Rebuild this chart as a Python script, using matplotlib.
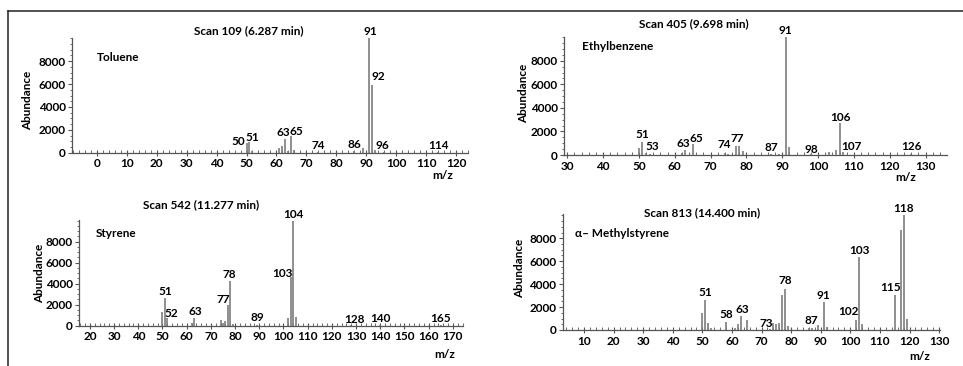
import matplotlib
matplotlib.use("Agg")
import matplotlib.pyplot as plt
from matplotlib.lines import Line2D
from matplotlib.ticker import MultipleLocator

plt.rcParams['font.family'] = ['Lato', 'DejaVu Sans']
plt.rcParams['font.weight'] = 'bold'

# ---------------- data ----------------
toluene_mz = [50, 51, 52, 61, 62, 63, 64, 65, 66, 74, 86, 89, 91, 92, 93, 96, 114]
toluene_ab = [820, 960, 150, 380, 620, 1170, 150, 1450, 200, 100, 150, 450, 10000, 5900, 250, 60, 60]
toluene_labels = [50, 51, 63, 65, 74, 86, 91, 92, 96, 114]

ethyl_mz = [50, 51, 52, 53, 62, 63, 65, 74, 75, 77, 78, 79, 87, 89, 91, 92, 98, 103, 105, 106, 107, 126]
ethyl_ab = [570, 1070, 150, 80, 150, 420, 930, 150, 100, 760, 740, 340, 80, 100, 10000, 650, 50, 280, 420, 2680, 220, 50]
ethyl_labels = [51, 53, 63, 65, 74, 77, 87, 91, 98, 106, 107, 126]

styrene_mz = [50, 51, 52, 62, 63, 74, 75, 76, 77, 78, 79, 89, 102, 103, 104, 105, 128, 140, 165]
styrene_ab = [1270, 2590, 700, 290, 700, 500, 300, 400, 1960, 4230, 200, 100, 700, 4640, 10000, 800, 50, 50, 50]
styrene_labels = [51, 52, 63, 77, 78, 89, 103, 104, 128, 140, 165]

methyl_mz = [50, 51, 52, 53, 58, 61, 62, 63, 65, 73, 74, 75, 76, 77, 78, 79, 86, 87, 89, 91, 92,
             102, 103, 104, 115, 117, 118, 119]
methyl_ab = [1440, 2590, 630, 150, 720, 200, 500, 1240, 860, 100, 630, 520, 580, 3020, 3600, 350, 150, 170, 430,
             2450, 290, 860, 6340, 520, 3080, 8700, 10000, 920]
methyl_labels = [51, 58, 63, 73, 78, 87, 91, 102, 103, 115, 118]

titles = ["Scan 109 (6.287 min)", "Scan 405 (9.698 min)", "Scan 542 (11.277 min)", "Scan 813 (14.400 min)"]
names = ["Toluene", "Ethylbenzene", "Styrene", "\u03b1\u2013 Methylstyrene"]
x_ticks = [list(range(0, 121, 10)), list(range(30, 131, 10)), list(range(20, 171, 10)), list(range(10, 131, 10))]
y_ticks = [0, 2000, 4000, 6000, 8000]

# ---------------- layout / style ----------------
W, H = 963, 366
panels = [
    dict(mz=toluene_mz, ab=toluene_ab, labels=toluene_labels,
         rect=[72, 38, 468, 152.7], xlim=(-8.3, 124), ylim=10030,
         title=(0.447, 1.061), name=(0.062, 0.834), ylab=(-0.111, 0.46), mz_lab=(0.937, -0.2),
         off={50: (-8, -2), 51: (3, 1), 63: (-2, 3), 65: (5, 1), 74: (0, 3), 86: (0, 3),
              91: (1, 3), 92: (6, 5), 96: (-2, 3), 114: (0, 3)}),
    dict(mz=ethyl_mz, ab=ethyl_ab, labels=ethyl_labels,
         rect=[564, 36.7, 946.7, 155], xlim=(29.1, 135.9), ylim=10050,
         title=(0.34, 1.113), name=(0.046, 0.92), ylab=(-0.106, 0.524), mz_lab=(0.894, -0.186),
         off={51: (0, 4), 53: (3, 4), 63: (-2, 3), 65: (4, 2), 74: (-1, 5), 77: (1.5, 4), 87: (0, 3),
              91: (0, 3), 98: (0, 1), 106: (1, 2), 107: (8, 2), 126: (0, 4)}),
    dict(mz=styrene_mz, ab=styrene_ab, labels=styrene_labels,
         rect=[79, 220, 463.3, 325.7], xlim=(15.5, 174.3), ylim=10060,
         title=(0.317, 1.142), name=(0.043, 0.874), ylab=(-0.103, 0.499), mz_lab=(0.952, -0.277),
         off={51: (0, 3), 52: (3.5, 1), 63: (1, 3), 77: (-5, 2), 78: (-1, 3), 89: (1, 4),
              103: (-8, 0), 104: (0, 3), 128: (3, 2), 140: (0, 3), 165: (0, 3)}),
    dict(mz=methyl_mz, ab=methyl_ab, labels=methyl_labels,
         rect=[562.7, 214.3, 940, 330], xlim=(2.8, 130.3), ylim=10090,
         title=(0.37, 1.017), name=(0.033, 0.835), ylab=(-0.115, 0.533), mz_lab=(0.947, -0.231),
         off={51: (0, 4), 58: (0, 4), 63: (1, 3), 73: (-4, 2), 78: (0, 5), 87: (-1, 4), 91: (0, 3),
              102: (-8, 5), 103: (0, 3), 115: (-4, 4), 118: (0, 3)}),
]

FS = 8.5
BAR = '#7d7d7d'
AXC = '#555555'

fig = plt.figure(figsize=(W / 100, H / 100), dpi=100)
fig.patch.set_facecolor('white')

for i, p in enumerate(panels):
    l, t, r, b = p['rect']
    ax = fig.add_axes([l / W, 1 - b / H, (r - l) / W, (b - t) / H])
    ax.vlines(p['mz'], 0, p['ab'], color=BAR, lw=1.2)
    ax.set_xlim(*p['xlim'])
    ax.set_ylim(0, p['ylim'])
    ax.set_xticks(x_ticks[i])
    ax.set_yticks(y_ticks)
    ax.xaxis.set_minor_locator(MultipleLocator(2))
    ax.yaxis.set_minor_locator(MultipleLocator(500))
    for s in ['top', 'right']:
        ax.spines[s].set_visible(False)
    for s in ['left', 'bottom']:
        ax.spines[s].set_color(AXC)
        ax.spines[s].set_linewidth(0.9)
    ax.tick_params(axis='x', which='major', direction='inout', length=4, width=0.8, color=AXC,
                   labelsize=FS, pad=2)
    ax.tick_params(axis='x', which='minor', direction='in', length=2, width=0.6, color=AXC)
    ax.tick_params(axis='y', which='major', direction='out', length=3, width=0.8, color=AXC,
                   labelsize=FS, pad=1.5)
    ax.tick_params(axis='y', which='minor', direction='out', length=1.5, width=0.6, color=AXC)
    for lab in ax.get_xticklabels() + ax.get_yticklabels():
        lab.set_fontweight('bold')
    ax.patch.set_alpha(0)

    heights = dict(zip(p['mz'], p['ab']))
    for m in p['labels']:
        dx, dy = p['off'].get(m, (0, 3))
        ax.annotate(str(m), xy=(m, heights.get(m, 0)), xytext=(dx, dy), textcoords='offset pixels',
                    ha='center', va='baseline', fontsize=FS, fontweight='bold', color='black')

    ax.text(p['title'][0], p['title'][1], titles[i], transform=ax.transAxes, ha='center', va='center',
            fontsize=FS, fontweight='bold')
    ax.text(p['name'][0], p['name'][1], names[i], transform=ax.transAxes, ha='left', va='center',
            fontsize=FS, fontweight='bold')
    ax.text(p['ylab'][0], p['ylab'][1], 'Abundance', transform=ax.transAxes, ha='center', va='center',
            rotation=90, fontsize=FS, fontweight='bold')
    ax.text(p['mz_lab'][0], p['mz_lab'][1], 'm/z', transform=ax.transAxes, ha='center', va='center',
            fontsize=FS, fontweight='bold')

# frame lines (top and left)
fig.add_artist(Line2D([8 / W, 1], [1 - 11 / H, 1 - 11 / H], transform=fig.transFigure, color='#222222', lw=1.1))
fig.add_artist(Line2D([8 / W, 8 / W], [0, 1 - 11 / H], transform=fig.transFigure, color='#222222', lw=1.1))

fig.savefig('out.png', dpi=100)
